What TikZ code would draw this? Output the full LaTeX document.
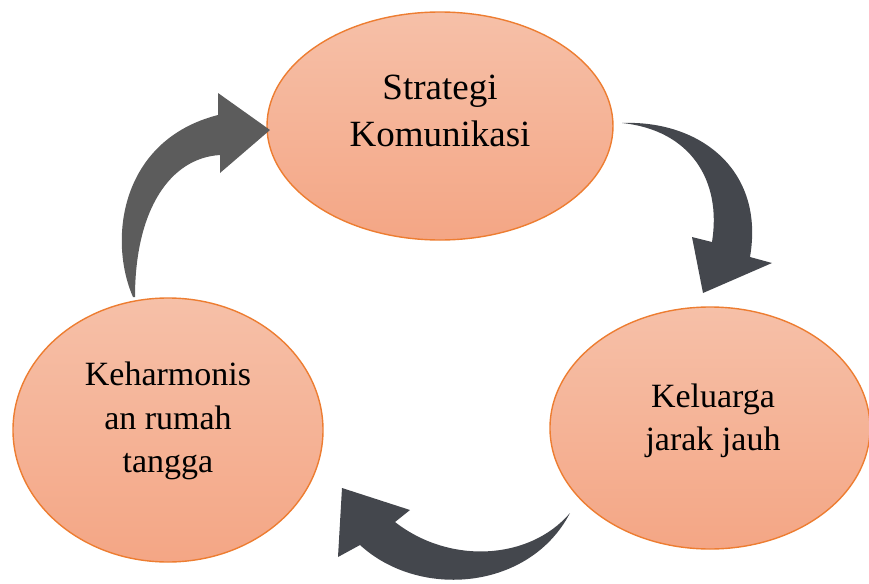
\documentclass[tikz,border=0pt]{standalone}
\usepackage{fontspec}
\setmainfont{Liberation Serif}
\usepackage[]{xcolor}
\usetikzlibrary{shapes, positioning, calc}
\definecolor{peachtop}{RGB}{246,192,168}
\definecolor{peachbot}{RGB}{244,166,133}
\definecolor{rim}{RGB}{237,125,49}
\definecolor{greyarrow}{RGB}{92,92,92}
\definecolor{darkarrow}{RGB}{68,71,77}
\tikzstyle{bubble} = [ellipse, draw=rim, line width=0.7pt, top color=peachtop, bottom color=peachbot, inner sep=0pt]
\tikzstyle{txt} = [align=center, inner sep=0pt]
\newcommand{\bigtxt}{\fontsize{18.5}{23.5}\selectfont}
\newcommand{\smalltxt}{\fontsize{17}{21.75}\selectfont}

\begin{document}
\begin{tikzpicture}[x=0.5pt, y=-0.5pt]
		\useasboundingbox (0,0) rectangle (869,584);
		
		\node [bubble, minimum width=173pt, minimum height=114pt] (strategi) at (440,126) {};
		\node [bubble, minimum width=160pt, minimum height=121pt] (keluarga) at (710,428) {};
		\node [bubble, minimum width=155pt, minimum height=132pt] (harmonis) at (168,430) {};
		
		\node [txt, font=\bigtxt] (strategi-t) at ($(strategi)+(0,-15)$) {Strategi\\Komunikasi};
		\node [txt, font=\smalltxt] (keluarga-t) at ($(keluarga)+(3,-7)$) {Keluarga\\jarak jauh};
		\node [txt, font=\smalltxt] (harmonis-t) at ($(harmonis)+(0,-9)$) {Keharmonis\\an rumah\\tangga};
		
		% curved block arrows
		\fill [greyarrow] (133,297) .. controls (108,240) and (120,140) .. (218,115)
			-- (218,93) -- (270,130) -- (220,173) -- (220,155)
			.. controls (170,158) and (135,210) .. (135,297) -- cycle;
		\fill [darkarrow] (622,123) .. controls (700,120) and (765,170) .. (750,257)
			-- (772,263) -- (703,293) -- (692,237) -- (712,242)
			.. controls (722,180) and (690,130) .. (622,123) -- cycle;
		\fill [darkarrow] (570,513) .. controls (530,590) and (420,600) .. (360,545)
			-- (338,557) -- (342,488) -- (410,510) -- (395,522)
			.. controls (450,565) and (530,560) .. (570,513) -- cycle;
		
	\end{tikzpicture}
\end{document}
